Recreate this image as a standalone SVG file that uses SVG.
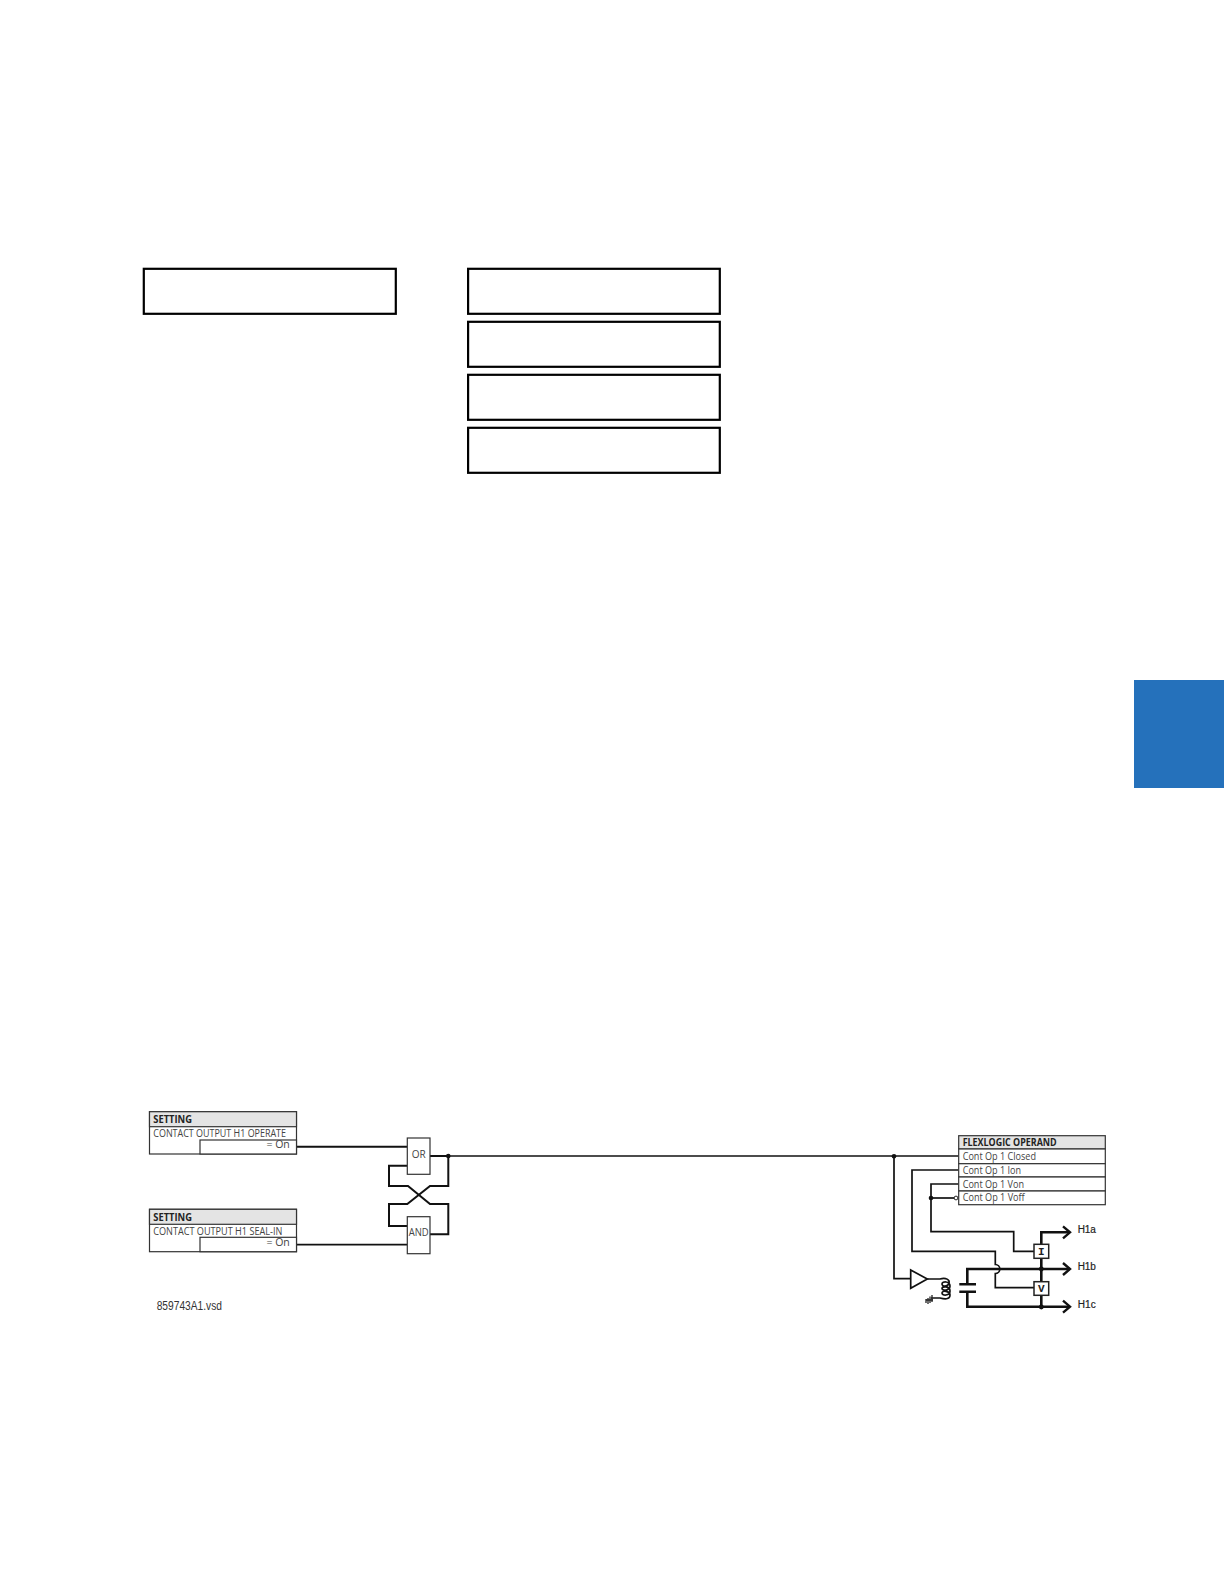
<svg xmlns="http://www.w3.org/2000/svg" width="1224" height="1584" viewBox="0 0 1224 1584">
<style>
.lcd{fill:#fff;stroke:#000;stroke-width:2.2}
.box{fill:#fff;stroke:#333;stroke-width:1.2}
.hdr{fill:#e4e4e4;stroke:#333;stroke-width:1.2}
.w{fill:none;stroke:#111;stroke-width:1.7}
.wt{fill:none;stroke:#111;stroke-width:2}
.p{fill:none;stroke:#111;stroke-width:2.6}
.c{fill:none;stroke:#222;stroke-width:1.3}
text{font-family:"Open Sans","Liberation Sans",sans-serif;font-size:10px;fill:#444}
.b{font-weight:700;fill:#222}
.n{font-size:10.5px}
.h{font-family:"Liberation Sans",sans-serif;font-size:10px;font-weight:400;fill:#222;stroke:#222;stroke-width:0.2}
.v{font-family:"Liberation Sans",sans-serif;font-size:12px;fill:#333}
.m{font-family:"Liberation Mono",monospace;font-size:11px;font-weight:700;fill:#222}
</style>
<defs>
<marker id="arr" markerUnits="userSpaceOnUse" markerWidth="12" markerHeight="16" refX="9.5" refY="8" orient="auto" overflow="visible"><path d="M2.5 2 L9.500 8 L2.500 14" fill="none" stroke="#111" stroke-width="2.4"/></marker>
</defs>
<rect width="1224" height="1584" fill="#fff"/>
<g id="tab"><rect x="1134" y="680" width="90" height="108" fill="#2571bb"/></g>
<g id="display-left"><rect class="lcd" x="143.8" y="268.8" width="252" height="45"/></g>
<g id="display-right-1"><rect class="lcd" x="468.100" y="268.8" width="251.700" height="45"/></g>
<g id="display-right-2"><rect class="lcd" x="468.100" y="321.8" width="251.700" height="45"/></g>
<g id="display-right-3"><rect class="lcd" x="468.100" y="374.8" width="251.700" height="45"/></g>
<g id="display-right-4"><rect class="lcd" x="468.100" y="427.8" width="251.700" height="45"/></g>
<g id="connectors">
<path class="wt" d="M296.300 1146.700H407.300"/>
<path class="w" d="M296.300 1244.700H407.300"/>
<path class="wt" d="M430 1156H448.300"/>
<path class="w" d="M448.300 1156H958.700"/>
<path class="wt" d="M448.300 1156V1186H430L407.300 1204H389V1226H407.300"/>
<path class="wt" d="M407.300 1165.700H389V1186H408L430 1204H448.300V1234.300H430"/>
<path class="w" d="M894 1156.300V1278.700H910.700"/>
<path class="w" d="M958.700 1170H912V1251.300H995.300V1264.500A4.500 4.500 0 0 1 995.300 1273.500V1287.700H1034"/>
<path class="w" d="M958.700 1184H931V1231.700H1013.700V1251.300H1034"/>
<path class="w" d="M931 1198H954.300"/>
<path class="p" d="M1041.300 1244.300V1232.300H1070" marker-end="url(#arr)"/>
<path class="p" d="M967.300 1284V1269H1070" marker-end="url(#arr)"/>
<path class="p" d="M967.300 1292V1306.700H1070" marker-end="url(#arr)"/>
<path class="p" d="M1041.300 1258.300V1306.700"/>
<path class="p" d="M959.300 1284.300H976M959.300 1291.700H976"/>
<circle cx="448.300" cy="1156" r="2.300" fill="#111"/>
<circle cx="894" cy="1156.300" r="2.300" fill="#111"/>
<circle cx="931" cy="1198" r="2.300" fill="#111"/>
<circle cx="956" cy="1198" r="1.900" fill="#fff" stroke="#222"/>
<circle cx="1041.300" cy="1269" r="2.400" fill="#111"/>
<circle cx="1041.300" cy="1307" r="2.400" fill="#111"/>
</g>
<g id="setting-operate">
<rect class="box" x="149.500" y="1111.700" width="147" height="42.300"/>
<rect class="hdr" x="149.500" y="1111.700" width="147" height="15"/>
<rect class="box" x="200" y="1140" width="96.500" height="14"/>
<text class="b" x="153.300" y="1123" textLength="38.700" lengthAdjust="spacingAndGlyphs">SETTING</text>
<text x="153.300" y="1137.300" textLength="132.700" lengthAdjust="spacingAndGlyphs">CONTACT OUTPUT H1 OPERATE</text>
<text class="n" x="289.800" y="1148.300" text-anchor="end">= On</text>
</g>
<g id="setting-seal-in">
<rect class="box" x="149.500" y="1209.300" width="147" height="42.400"/>
<rect class="hdr" x="149.500" y="1209.300" width="147" height="15"/>
<rect class="box" x="200" y="1237.300" width="96.500" height="14.400"/>
<text class="b" x="153.300" y="1220.700" textLength="38.700" lengthAdjust="spacingAndGlyphs">SETTING</text>
<text x="153.300" y="1234.700" textLength="129" lengthAdjust="spacingAndGlyphs">CONTACT OUTPUT H1 SEAL-IN</text>
<text class="n" x="289.800" y="1246" text-anchor="end">= On</text>
</g>
<g id="or-gate"><rect class="box" x="407.300" y="1138" width="22.700" height="36.300"/><text x="418.700" y="1157.700" text-anchor="middle">OR</text></g>
<g id="and-gate"><rect class="box" x="407.300" y="1216.700" width="22.700" height="37"/><text x="418.700" y="1236" text-anchor="middle" textLength="20" lengthAdjust="spacingAndGlyphs">AND</text></g>
<g id="flexlogic">
<rect class="hdr" x="958.700" y="1135.700" width="146.600" height="13.300"/>
<rect class="box" x="958.700" y="1149" width="146.600" height="14.700"/>
<rect class="box" x="958.700" y="1163.700" width="146.600" height="13.300"/>
<rect class="box" x="958.700" y="1177" width="146.600" height="14"/>
<rect class="box" x="958.700" y="1191" width="146.600" height="13.700"/>
<text class="b" x="962.700" y="1145.700" textLength="94" lengthAdjust="spacingAndGlyphs">FLEXLOGIC OPERAND</text>
<text x="962.700" y="1160.300" textLength="73.300" lengthAdjust="spacingAndGlyphs">Cont Op 1 Closed</text>
<text x="962.700" y="1174" textLength="58.300" lengthAdjust="spacingAndGlyphs">Cont Op 1 Ion</text>
<text x="962.700" y="1187.700" textLength="61.300" lengthAdjust="spacingAndGlyphs">Cont Op 1 Von</text>
<text x="962.700" y="1201.300" textLength="62" lengthAdjust="spacingAndGlyphs">Cont Op 1 Voff</text>
</g>
<g id="coil">
<path class="w" d="M910.700 1270L927.300 1279L910.700 1288.300Z" fill="#fff"/>
<path class="w" d="M927.300 1279H940C946 1277 950 1280 949 1283C948 1287 942 1287 942 1284C942 1281 950 1281 950 1286C950 1291 942 1291 942 1288.500C942 1286 950 1286 950 1291C950 1296 942 1296 942 1293C942 1290 950 1291 950 1295C950 1300 944 1299 940 1298H931"/>
<path class="c" d="M932 1295V1302M930 1296.500V1303M928 1298V1304M926 1299V1303M926 1300H933"/>
</g>
<g id="sensor-i"><rect x="1034" y="1244.300" width="14.700" height="14" fill="#fff" stroke="#222" stroke-width="1.500"/><text class="m" x="1041.300" y="1255" text-anchor="middle">I</text></g>
<g id="sensor-v"><rect x="1034" y="1281.700" width="14.700" height="13.600" fill="#fff" stroke="#222" stroke-width="1.500"/><text class="m" x="1041.300" y="1292.300" text-anchor="middle">V</text></g>
<g id="terminals">
<text class="h" x="1077.700" y="1233" textLength="18" lengthAdjust="spacing">H1a</text>
<text class="h" x="1077.700" y="1270" textLength="18" lengthAdjust="spacing">H1b</text>
<text class="h" x="1077.700" y="1307.700" textLength="18" lengthAdjust="spacing">H1c</text>
</g>
<text class="v" x="156.700" y="1310" textLength="65.300" lengthAdjust="spacingAndGlyphs">859743A1.vsd</text>
</svg>
